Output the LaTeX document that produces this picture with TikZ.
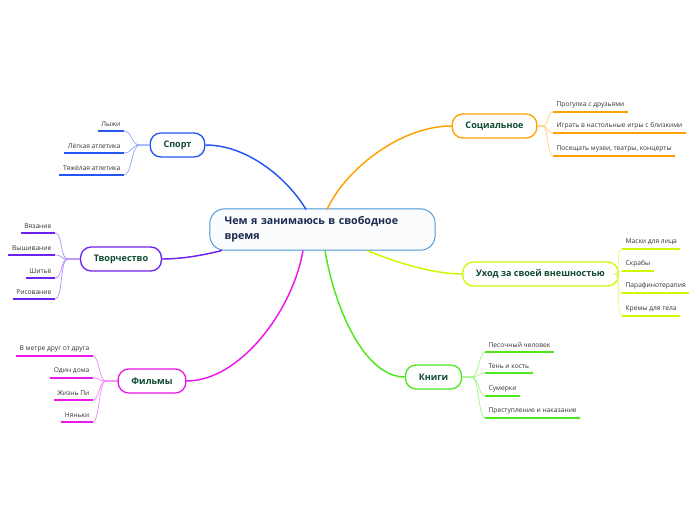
\documentclass[tikz,border=0pt]{standalone}
\usepackage{fontspec}
\setmainfont{Open Sans}
\usetikzlibrary{positioning}
\definecolor{rootc}{HTML}{4A95D6}
\definecolor{roottext}{HTML}{1B2A4E}
\definecolor{maintext}{HTML}{0E4A2E}
\definecolor{leaftext}{HTML}{333333}
\definecolor{sportc}{HTML}{2457F2}
\definecolor{socialc}{HTML}{FFA000}
\definecolor{creatc}{HTML}{6E22F2}
\definecolor{carec}{HTML}{D2F500}
\definecolor{filmc}{HTML}{EB17EB}
\definecolor{bookc}{HTML}{4CE81C}
\tikzstyle{root} = [rectangle, rounded corners=11pt, line width=0.7pt, draw=rootc, fill=rootc!3, minimum width=169pt, minimum height=31pt, inner xsep=11pt, text width=147pt, align=left, text=roottext, font=\fontsize{8}{11}\selectfont\bfseries]
\tikzstyle{topic} = [rectangle, rounded corners=8pt, line width=1pt, fill=white, minimum height=18pt, inner xsep=10pt, text=maintext, font=\fontsize{6.8}{9}\selectfont\bfseries]
\tikzstyle{leaf} = [inner xsep=2.5pt, inner ysep=3pt, text=leaftext, font=\fontsize{5}{6}\selectfont]
\tikzstyle{branch} = [line width=1.1pt]
\tikzstyle{twig} = [line width=0.5pt]
\tikzstyle{under} = [line width=1.5pt]
\begin{document}
\begin{tikzpicture}[x=0.75pt, y=-0.75pt]
	\useasboundingbox (0,0) rectangle (696,520);
	% main topics
	\node (Root) [root] at (322.5,229.5) {Чем я занимаюсь в свободное\\время};
	\node (Sport) [topic, draw=sportc] at (177.5,145) {Спорт};
	\node (Social) [topic, draw=socialc] at (494.5,126) {Социальное};
	\node (Creativity) [topic, draw=creatc] at (121,259) {Творчество};
	\node (Care) [topic, draw=carec] at (540.5,274) {Уход за своей внешностью};
	\node (Films) [topic, draw=filmc] at (152,381) {Фильмы};
	\node (Books) [topic, draw=bookc] at (433.5,377) {Книги};
	\draw [branch, sportc] (306,209.5) .. controls (290,182) and (250,145) .. (Sport.east);
	\draw [branch, socialc] (327,209.5) .. controls (345,170) and (400,126) .. (Social.west);
	\draw [branch, creatc] (222,250.5) .. controls (200,256) and (180,259) .. (Creativity.east);
	\draw [branch, carec] (367,250.5) .. controls (400,264) and (435,274) .. (Care.west);
	\draw [branch, filmc] (303,250.5) .. controls (293,310) and (240,381) .. (Films.east);
	\draw [branch, bookc] (325,250.5) .. controls (335,310) and (365,377) .. (Books.west);
	% Sport
	\node (Ski) [leaf, anchor=south east] at (124,131) {Лыжи};
	\node (Athletics) [leaf, anchor=south east] at (124,153) {Лёгкая атлетика};
	\node (Weights) [leaf, anchor=south east] at (124,175) {Тяжёлая атлетика};
	\foreach \leafname in {Ski, Athletics, Weights} {
		\draw [under, sportc] (\leafname.south west) -- (\leafname.south east);
		\draw [twig, sportc!55] (Sport.west) -- ++(-10,0) .. controls +(-8,0) and +(8,0) .. (\leafname.south east);
	}
	% Social
	\node (Walk) [leaf, anchor=south west] at (553,112) {Прогулка с друзьями};
	\node (Games) [leaf, anchor=south west] at (553,133) {Играть в настольные игры с близкими};
	\node (Museums) [leaf, anchor=south west] at (553,156) {Посещать музеи, театры, концерты};
	\foreach \leafname in {Walk, Games, Museums} {
		\draw [under, socialc] (\leafname.south west) -- (\leafname.south east);
		\draw [twig, socialc!55] (Social.east) -- ++(5,0) .. controls +(6,0) and +(-6,0) .. (\leafname.south west);
	}
	% Creativity
	\node (Knitting) [leaf, anchor=south east] at (55,233) {Вязание};
	\node (Embroidery) [leaf, anchor=south east] at (55,255) {Вышивание};
	\node (Sewing) [leaf, anchor=south east] at (55,278) {Шитьё};
	\node (Drawing) [leaf, anchor=south east] at (55,299) {Рисование};
	\foreach \leafname in {Knitting, Embroidery, Sewing, Drawing} {
		\draw [under, creatc] (\leafname.south west) -- (\leafname.south east);
		\draw [twig, creatc!55] (Creativity.west) -- ++(-12,0) .. controls +(-8,0) and +(8,0) .. (\leafname.south east);
	}
	% Care
	\node (Masks) [leaf, anchor=south west] at (622,249) {Маски для лица};
	\node (Scrubs) [leaf, anchor=south west] at (622,271) {Скрабы};
	\node (Paraffin) [leaf, anchor=south west] at (622,293) {Парафинотерапия};
	\node (Creams) [leaf, anchor=south west] at (622,316) {Кремы для тела};
	\foreach \leafname in {Masks, Scrubs, Paraffin, Creams} {
		\draw [under, carec] (\leafname.south west) -- (\leafname.south east);
		\draw [twig, carec!55] (Care.east) -- ++(-4,0) .. controls +(6,0) and +(-6,0) .. (\leafname.south west);
	}
	% Films
	\node (Metre) [leaf, anchor=south east] at (93,356) {В метре друг от друга};
	\node (HomeAlone) [leaf, anchor=south east] at (93,378) {Один дома};
	\node (LifePi) [leaf, anchor=south east] at (93,400) {Жизнь Пи};
	\node (Nannies) [leaf, anchor=south east] at (93,422) {Няньки};
	\foreach \leafname in {Metre, HomeAlone, LifePi, Nannies} {
		\draw [under, filmc] (\leafname.south west) -- (\leafname.south east);
		\draw [twig, filmc!55] (Films.west) -- ++(-12,0) .. controls +(-6,0) and +(6,0) .. (\leafname.south east);
	}
	% Books
	\node (Sandman) [leaf, anchor=south west] at (485,352) {Песочный человек};
	\node (Shadow) [leaf, anchor=south west] at (485,373) {Тень и кость};
	\node (Twilight) [leaf, anchor=south west] at (485,396) {Сумерки};
	\node (Crime) [leaf, anchor=south west] at (485,418) {Преступление и наказание};
	\foreach \leafname in {Sandman, Shadow, Twilight, Crime} {
		\draw [under, bookc] (\leafname.south west) -- (\leafname.south east);
		\draw [twig, bookc!55] (Books.east) -- ++(10,0) .. controls +(6,0) and +(-6,0) .. (\leafname.south west);
	}
\end{tikzpicture}
\end{document}
